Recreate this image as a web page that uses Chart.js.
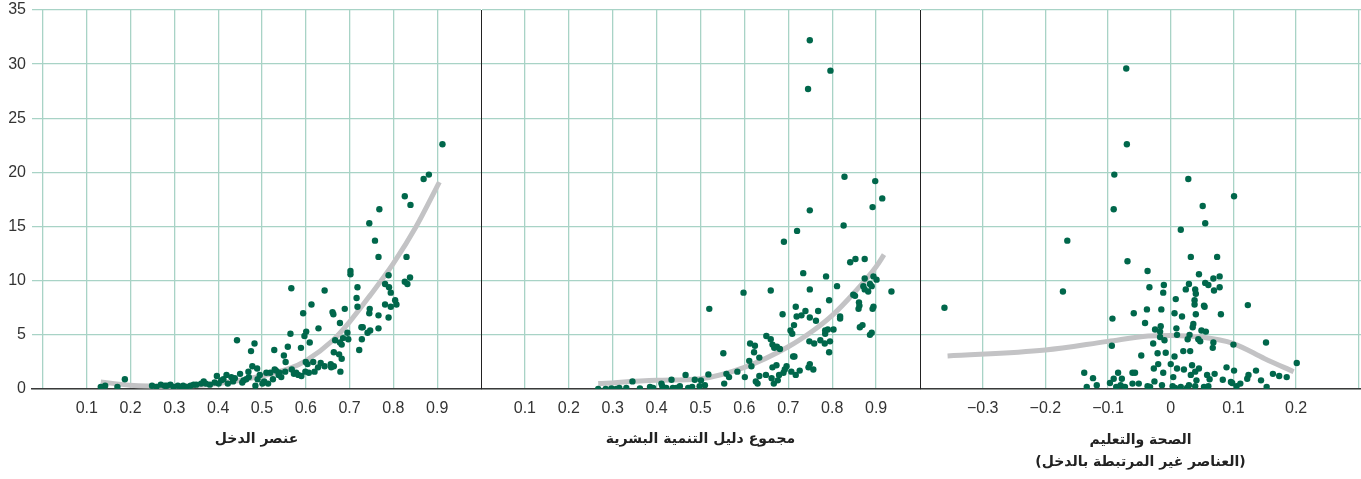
<!DOCTYPE html>
<html>
<head>
<meta charset="utf-8">
<script src="https://cdn.jsdelivr.net/npm/chart.js@4"></script>
<style>
  html, body { margin: 0; padding: 0; background: #fff; }
  #wrap { position: relative; width: 1361px; height: 479px; overflow: hidden; }
  .panel { position: absolute; top: 0; height: 479px; }
</style>
</head>
<body>
<div id="wrap">
  <div class="panel" style="left:0;width:481px"><canvas id="incomeChart"></canvas></div>
  <div class="panel" style="left:481px;width:439px"><canvas id="hdiChart"></canvas></div>
  <div class="panel" style="left:920px;width:441px"><canvas id="healthChart"></canvas></div>
</div>
<script>
// y axis (shared by the three panels)
const yTicks = [0, 5, 10, 15, 20, 25, 30, 35];

// panel 1: income component
const incomeTicks = [0, 0.1, 0.2, 0.3, 0.4, 0.5, 0.6, 0.7, 0.8, 0.9];
const incomeTickLabels = ['', '0.1', '0.2', '0.3', '0.4', '0.5', '0.6', '0.7', '0.8', '0.9'];
const incomeTitle = 'عنصر الدخل';
const incomePoints = [
  [0.912,22.6],[0.881,19.8],[0.869,19.4],[0.826,17.8],[0.839,17.0],[0.768,16.6],[0.745,15.3],[0.758,13.7],
  [0.766,12.2],[0.830,12.2],[0.702,10.9],[0.702,10.6],[0.789,10.5],[0.838,10.3],[0.826,9.9],[0.832,9.7],
  [0.781,9.7],[0.790,9.4],[0.567,9.3],[0.718,9.4],[0.643,9.1],[0.794,8.9],[0.716,8.4],[0.804,8.2],
  [0.807,7.8],[0.781,7.8],[0.613,7.8],[0.718,7.6],[0.794,7.6],[0.689,7.4],[0.746,7.4],[0.661,7.1],
  [0.745,7.0],[0.594,7.0],[0.663,6.9],[0.766,6.8],[0.789,6.6],[0.678,6.1],[0.730,5.7],[0.727,5.7],
  [0.629,5.6],[0.766,5.6],[0.695,5.2],[0.601,5.3],[0.565,5.1],[0.747,5.4],[0.741,5.2],[0.597,4.9],
  [0.667,4.5],[0.685,4.7],[0.697,4.6],[0.728,4.6],[0.682,4.1],[0.678,4.3],[0.609,4.3],[0.443,4.5],
  [0.483,4.2],[0.722,3.6],[0.528,3.6],[0.559,3.9],[0.589,3.8],[0.475,3.5],[0.550,3.1],[0.664,3.4],
  [0.676,3.2],[0.682,2.8],[0.554,2.5],[0.600,2.5],[0.617,2.5],[0.634,2.4],[0.657,2.3],[0.478,2.1],
  [0.604,2.3],[0.489,1.9],[0.643,2.1],[0.658,2.0],[0.664,2.1],[0.628,2.0],[0.469,1.6],[0.450,1.4],
  [0.529,1.8],[0.532,1.7],[0.568,1.8],[0.578,1.5],[0.583,1.3],[0.599,1.6],[0.620,1.6],[0.607,1.5],
  [0.679,1.6],[0.510,1.5],[0.519,1.5],[0.540,1.5],[0.397,1.2],[0.419,1.3],[0.430,1.1],[0.464,0.9],
  [0.490,0.9],[0.544,1.1],[0.525,0.9],[0.434,0.7],[0.407,0.8],[0.367,0.7],[0.381,0.4],[0.361,0.5],
  [0.401,0.5],[0.422,0.5],[0.455,0.6],[0.501,0.5],[0.485,0.3],[0.514,0.5],[0.187,0.9],[0.142,0.3],
  [0.132,0.2],[0.170,0.2],[0.249,0.3],[0.269,0.4],[0.278,0.3],[0.291,0.4],[0.308,0.3],[0.320,0.3],
  [0.327,0.2],[0.337,0.3],[0.344,0.4],[0.259,0.2],[0.316,0.2],[0.350,0.4],[0.412,0.9],[0.438,1.0],
  [0.458,0.8],[0.470,1.1],[0.495,1.3],[0.505,0.7],[0.538,1.3],[0.553,1.6],[0.573,1.4],[0.590,1.2],
  [0.392,0.6],[0.372,0.5],[0.298,0.2],[0.283,0.3]
];
const incomeFit = [
  [0.132,0.65],[0.198,0.35],[0.30,0.25],[0.40,0.5],[0.50,1.2],[0.563,1.9],[0.60,2.6],
  [0.662,4.5],[0.70,6.2],[0.746,8.6],[0.80,11.6],[0.852,15.0],[0.905,19.1]
];

// panel 2: HDI total
const hdiTicks = [0.1, 0.2, 0.3, 0.4, 0.5, 0.6, 0.7, 0.8, 0.9];
const hdiTickLabels = ['0.1', '0.2', '0.3', '0.4', '0.5', '0.6', '0.7', '0.8', '0.9'];
const hdiTitle = 'مجموع دليل التنمية البشرية';
const hdiPoints = [
  [0.749,32.2],[0.796,29.4],[0.745,27.7],[0.828,19.6],[0.898,19.2],[0.914,17.6],[0.892,16.8],[0.749,16.5],
  [0.826,15.1],[0.720,14.6],[0.690,13.6],[0.841,11.7],[0.853,12.0],[0.874,12.0],[0.734,10.7],[0.786,10.4],
  [0.874,10.2],[0.894,10.4],[0.901,10.1],[0.811,9.5],[0.749,9.2],[0.871,9.5],[0.890,9.5],[0.874,9.2],
  [0.882,9.0],[0.886,9.7],[0.598,8.9],[0.660,9.1],[0.935,9.0],[0.848,8.7],[0.852,8.6],[0.793,8.2],
  [0.861,8.0],[0.862,7.7],[0.860,7.4],[0.894,7.6],[0.892,7.4],[0.520,7.4],[0.717,7.6],[0.739,7.2],
  [0.768,7.2],[0.687,6.9],[0.719,6.7],[0.730,6.8],[0.749,6.6],[0.763,6.3],[0.818,6.7],[0.818,6.5],
  [0.713,5.9],[0.705,5.4],[0.709,5.1],[0.784,5.4],[0.790,5.5],[0.803,5.5],[0.784,5.1],[0.863,5.7],
  [0.869,5.9],[0.890,5.2],[0.886,5.0],[0.650,4.9],[0.660,4.6],[0.748,4.4],[0.759,4.2],[0.773,4.5],
  [0.795,4.4],[0.783,4.2],[0.793,3.4],[0.613,4.2],[0.624,4.0],[0.664,4.1],[0.674,3.9],[0.681,3.7],
  [0.668,3.8],[0.622,3.4],[0.552,3.3],[0.634,2.9],[0.611,2.6],[0.711,3.0],[0.714,3.0],[0.616,2.1],
  [0.673,2.2],[0.664,2.0],[0.696,2.1],[0.692,1.8],[0.749,2.3],[0.746,2.0],[0.757,1.8],[0.707,1.6],
  [0.717,1.3],[0.726,1.7],[0.689,1.5],[0.679,1.3],[0.559,1.4],[0.584,1.6],[0.565,1.1],[0.601,1.1],
  [0.634,1.2],[0.649,1.3],[0.662,1.0],[0.676,0.8],[0.667,0.5],[0.630,0.5],[0.626,0.7],[0.554,0.5],
  [0.518,1.35],[0.466,1.3],[0.487,0.85],[0.501,0.8],[0.434,0.85],[0.345,0.7],[0.411,0.5],[0.453,0.25],
  [0.472,0.1],[0.481,0.2],[0.498,0.25],[0.510,0.35],[0.385,0.2],[0.392,0.1],[0.422,0.1],[0.437,0.1],
  [0.362,0.05],[0.331,0.1],[0.315,0.1],[0.297,0.05],[0.284,0.0],[0.267,0.0],[0.308,0.0],[0.413,0.25],
  [0.445,0.1]
];
const hdiFit = [
  [0.267,0.5],[0.40,0.8],[0.50,0.95],[0.60,2.0],[0.70,3.9],[0.757,5.4],[0.80,6.8],
  [0.848,8.8],[0.90,11.3],[0.918,12.4]
];

// panel 3: health and education (non-income components)
const healthTicks = [-0.3, -0.2, -0.1, 0, 0.1, 0.2, 0.3];
const healthTickLabels = ['−0.3', '−0.2', '−0.1', '0', '0.1', '0.2', ''];
const healthTitle = ['الصحة والتعليم', '(العناصر غير المرتبطة بالدخل)'];
const healthPoints = [
  [-0.361,7.5],[-0.165,13.7],[-0.172,9.0],[-0.071,29.6],[-0.070,22.6],[-0.090,19.8],[-0.091,16.6],[-0.069,11.8],
  [-0.093,6.5],[-0.094,4.0],[0.028,19.4],[0.051,16.9],[0.055,15.3],[0.016,14.7],[0.101,17.8],[0.032,12.2],
  [0.074,12.2],[-0.037,10.9],[0.045,10.6],[0.078,10.4],[0.068,10.2],[-0.011,9.6],[-0.034,9.4],[0.055,9.8],
  [0.060,9.6],[0.029,9.7],[0.078,9.4],[0.069,9.1],[-0.012,8.9],[0.039,9.2],[0.024,9.2],[0.040,8.8],
  [0.008,8.3],[0.038,8.2],[0.038,7.8],[0.053,7.7],[0.054,7.6],[0.123,7.75],[-0.059,7.0],[-0.038,7.35],
  [-0.015,7.35],[0.006,7.0],[0.018,6.7],[0.040,6.9],[0.080,6.9],[-0.041,6.1],[-0.025,5.5],[-0.016,5.8],
  [-0.017,5.3],[-0.010,4.5],[-0.017,4.8],[0.009,5.6],[0.010,5.0],[0.036,6.0],[0.035,5.7],[0.030,5.0],
  [0.027,4.6],[0.049,5.4],[0.056,5.3],[0.044,4.6],[0.047,4.4],[0.068,4.3],[0.067,3.8],[0.100,4.1],
  [0.152,4.3],[-0.028,4.2],[0.020,3.5],[0.031,3.5],[-0.008,3.35],[-0.021,3.3],[0.006,3.0],[-0.047,3.1],
  [0.000,2.3],[-0.020,2.3],[-0.027,1.9],[0.010,1.9],[0.021,1.8],[0.034,2.2],[0.045,1.9],[0.039,1.6],
  [0.032,1.3],[-0.012,1.5],[0.004,1.1],[0.089,2.0],[0.101,1.7],[0.136,1.7],[0.124,1.3],[0.163,1.4],
  [0.173,1.2],[0.185,1.1],[0.201,2.4],[0.058,1.3],[0.070,1.4],[0.062,0.9],[0.083,0.85],[0.122,0.95],
  [0.144,0.8],[-0.138,1.5],[-0.124,1.0],[-0.118,0.35],[-0.134,0.2],[-0.097,0.55],[-0.091,0.95],[-0.084,1.5],
  [-0.078,0.95],[-0.087,0.2],[-0.080,0.35],[-0.073,0.2],[-0.061,1.5],[-0.057,1.5],[-0.061,0.5],[-0.051,0.5],
  [-0.037,0.25],[-0.033,0.2],[-0.026,0.7],[-0.014,0.35],[0.003,0.25],[0.007,0.1],[0.016,0.2],[0.026,0.1],
  [0.029,0.35],[0.041,0.8],[0.039,0.25],[0.053,0.2],[0.060,0.25],[0.096,0.65],[0.098,0.55],[0.105,0.25],
  [0.111,0.5],[0.153,0.2]
];
const healthFit = [
  [-0.356,3.05],[-0.2,3.6],[-0.1,4.4],[-0.036,4.9],[0,4.95],[0.049,4.8],[0.1,4.2],[0.15,2.8],[0.196,1.6]
];

const dotColor = '#00674b';
const fitColor = '#c3c3c5';
const gridColor = '#a8d3c6';
const tickFont = { family: '"Liberation Sans Narrow", "Liberation Sans", sans-serif', size: 16 };
const titleFont = { family: '"DejaVu Sans", sans-serif', size: 14, weight: 'bold', lineHeight: 1.6 };

function toXY(pairs) {
  return pairs.map(p => ({ x: p[0], y: p[1] }));
}

function makePanel(canvasId, cfg) {
  const ctx = document.getElementById(canvasId);
  if (!ctx) return;

  new Chart(ctx, {
    type: 'scatter',
    data: {
      datasets: [
        {
          data: toXY(cfg.points),
          backgroundColor: dotColor,
          borderWidth: 0,
          pointRadius: 3.2
        },
        {
          data: toXY(cfg.fit),
          showLine: true,
          borderColor: fitColor,
          borderWidth: 5,
          borderCapStyle: 'butt',
          pointRadius: 0,
          cubicInterpolationMode: 'monotone'
        }
      ]
    },
    options: {
      responsive: true,
      maintainAspectRatio: false,
      animation: false,
      layout: { autoPadding: false, padding: { top: 10, right: 0, bottom: 0, left: 0 } },
      plugins: { legend: { display: false }, tooltip: { enabled: false } },
      scales: {
        x: {
          type: 'linear',
          min: cfg.min,
          max: cfg.max,
          afterBuildTicks: s => { s.ticks = cfg.ticks.map(v => ({ value: v })); },
          afterFit: s => { s.height = 90; s.paddingLeft = 0; s.paddingRight = 0; },
          grid: { color: gridColor, lineWidth: 1.3, drawTicks: false },
          border: { display: true, color: '#3a3a3a', width: 1.5 },
          ticks: {
            font: tickFont,
            color: '#333',
            padding: 10,
            maxRotation: 0,
            autoSkip: false,
            callback: (v, i) => cfg.tickLabels[i]
          },
          title: {
            display: true,
            text: cfg.title,
            font: titleFont,
            color: '#222',
            padding: { top: 0, bottom: cfg.titlePad }
          }
        },
        y: {
          min: 0,
          max: 35,
          afterBuildTicks: s => { s.ticks = yTicks.map(v => ({ value: v })); },
          afterFit: s => {
            s.width = cfg.showY ? 32 : 0;
            s.paddingTop = 0;
            s.paddingBottom = 0;
          },
          grid: { color: gridColor, lineWidth: 1.3, drawTicks: false },
          border: cfg.showY ? { display: false } : { display: true, color: '#222', width: 1 },
          ticks: {
            display: cfg.showY,
            font: tickFont,
            color: '#333',
            padding: 6
          }
        }
      }
    }
  });
}

document.addEventListener('DOMContentLoaded', () => {
  makePanel('incomeChart', {
    points: incomePoints, fit: incomeFit, ticks: incomeTicks, tickLabels: incomeTickLabels,
    title: incomeTitle, min: -0.025, max: 1.0, showY: true, titlePad: 28
  });
  makePanel('hdiChart', {
    points: hdiPoints, fit: hdiFit, ticks: hdiTicks, tickLabels: hdiTickLabels,
    title: hdiTitle, min: 0, max: 1.0, showY: false, titlePad: 28
  });
  makePanel('healthChart', {
    points: healthPoints, fit: healthFit, ticks: healthTicks, tickLabels: healthTickLabels,
    title: healthTitle, min: -0.4, max: 0.3035, showY: false, titlePad: 5
  });
});
</script>
</body>
</html>
